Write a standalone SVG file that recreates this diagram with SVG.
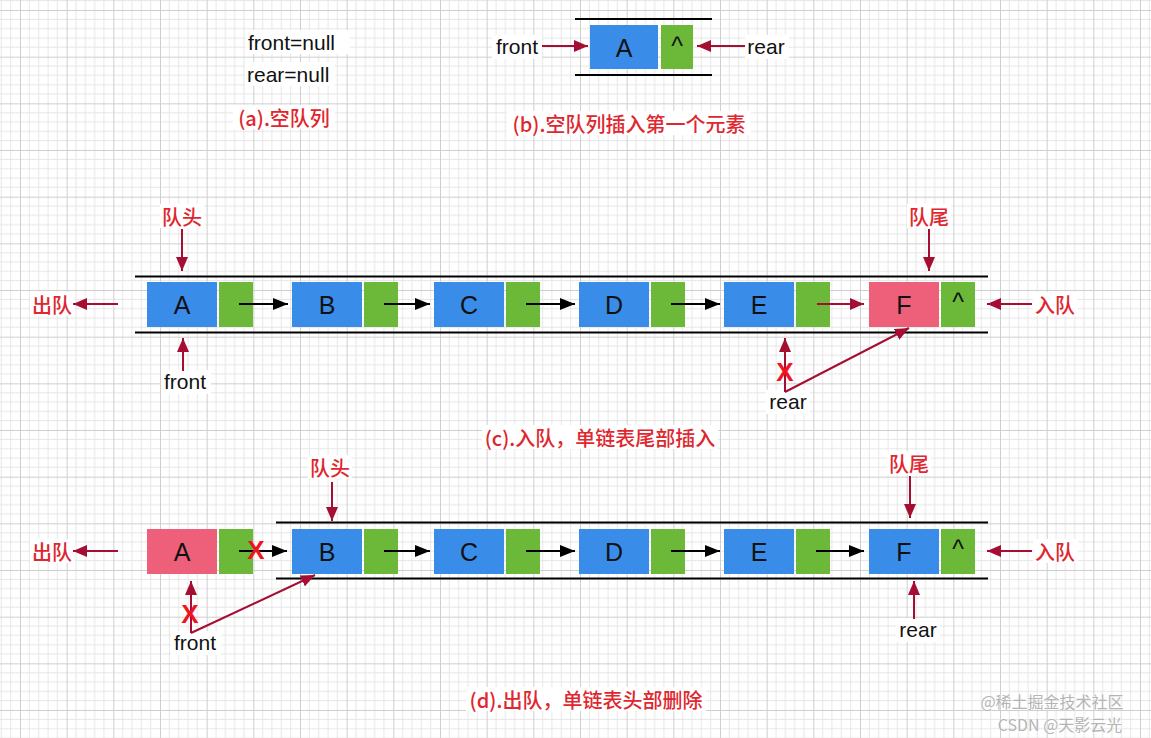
<svg xmlns="http://www.w3.org/2000/svg" width="1151" height="738" viewBox="0 0 1151 738">
<defs>
<pattern id="grid" patternUnits="userSpaceOnUse" x="20" y="10" width="46.667" height="46.667">
<path d="M9.333 0V46.667M18.667 0V46.667M28 0V46.667M37.333 0V46.667M0 9.333H46.667M0 18.667H46.667M0 28H46.667M0 37.333H46.667" stroke="#e6e6e6" stroke-width="1" fill="none"/>
<path d="M0.5 0V46.667M0 0.5H46.667" stroke="#cfcfcf" stroke-width="1" fill="none"/>
</pattern>
<marker id="ar" viewBox="0 0 14 12" refX="14" refY="6" markerWidth="14" markerHeight="12" markerUnits="userSpaceOnUse" orient="auto">
<path d="M0 0L14 6L0 12Z" fill="#a50e32"/>
</marker>
<marker id="ab" viewBox="0 0 15 12" refX="15" refY="6" markerWidth="15" markerHeight="12" markerUnits="userSpaceOnUse" orient="auto">
<path d="M0 0L15 6L0 12Z" fill="#000"/>
</marker>
</defs>
<style>
.bg{fill:#fff}
.blue{fill:#3a8ce9}
.green{fill:#6cb93a}
.pink{fill:#ee6079}
.rail{stroke:#000;stroke-width:2}
.ra{stroke:#a50e32;stroke-width:2;fill:none;marker-end:url(#ar)}
.ba{stroke:#000;stroke-width:2;fill:none;marker-end:url(#ab)}
.t{font-family:"Liberation Sans","Noto Sans CJK SC",sans-serif;fill:#111;dominant-baseline:central}
.n{font-size:25px;text-anchor:middle}
.lbl{font-size:21px}
.red{font-family:"Noto Sans CJK SC","Liberation Sans",sans-serif;fill:#e0262e;font-size:20px;font-weight:500;dominant-baseline:central;text-anchor:middle}
.x{font-family:"Liberation Sans",sans-serif;fill:#f0141e;font-size:26px;font-weight:bold;text-anchor:middle;dominant-baseline:central}
.wm{font-family:"Noto Sans CJK SC","Liberation Sans",sans-serif;fill:#b4b4b4;font-size:16px;text-anchor:middle;dominant-baseline:central;stroke:#fff;stroke-width:0.6;paint-order:stroke}
</style>
<rect width="1151" height="738" fill="#fff"/>
<rect width="1151" height="738" fill="url(#grid)"/>

<!-- (a) -->
<g id="a-front">
<rect class="bg" x="246" y="30" width="104" height="24"/>
<text class="t lbl" x="248" y="42">front=null</text>
</g>
<g id="a-rear">
<rect class="bg" x="245" y="62" width="90" height="24"/>
<text class="t lbl" x="247" y="74">rear=null</text>
</g>
<g id="a-label">
<rect class="bg" x="233" y="105" width="102" height="24"/>
<text class="red" x="284" y="117">(a).空队列</text>
</g>

<!-- (b) -->
<g id="b-rails">
<line class="rail" x1="575" y1="19" x2="712" y2="19"/>
<line class="rail" x1="575" y1="75" x2="712" y2="75"/>
</g>
<g id="b-nodeA">
<rect class="blue" x="590" y="25" width="68" height="44"/>
<rect class="green" x="661" y="25" width="32" height="44"/>
<text class="t n" x="624" y="48">A</text>
<text class="t n" x="677" y="46">^</text>
</g>
<g id="b-front">
<rect class="bg" x="492" y="35" width="50" height="24"/>
<text class="t lbl" x="517" y="46" text-anchor="middle">front</text>
</g>
<g id="b-rear">
<rect class="bg" x="745" y="35" width="44" height="24"/>
<text class="t lbl" x="766" y="46" text-anchor="middle">rear</text>
</g>
<g id="b-label">
<rect class="bg" x="507" y="111" width="244" height="24"/>
<text class="red" x="629" y="123">(b).空队列插入第一个元素</text>
</g>

<!-- (c) -->
<g id="c-rails">
<line class="rail" x1="135" y1="276.5" x2="988" y2="276.5"/>
<line class="rail" x1="135" y1="332.5" x2="988" y2="332.5"/>
</g>
<g id="c-A"><rect class="blue" x="147" y="282" width="70" height="45"/><rect class="green" x="219" y="282" width="34" height="45"/><text class="t n" x="182" y="305">A</text></g>
<g id="c-B"><rect class="blue" x="292" y="282" width="70" height="45"/><rect class="green" x="364" y="282" width="34" height="45"/><text class="t n" x="327" y="305">B</text></g>
<g id="c-C"><rect class="blue" x="434" y="282" width="70" height="45"/><rect class="green" x="506" y="282" width="34" height="45"/><text class="t n" x="469" y="305">C</text></g>
<g id="c-D"><rect class="blue" x="579" y="282" width="70" height="45"/><rect class="green" x="651" y="282" width="34" height="45"/><text class="t n" x="614" y="305">D</text></g>
<g id="c-E"><rect class="blue" x="724" y="282" width="70" height="45"/><rect class="green" x="796" y="282" width="34" height="45"/><text class="t n" x="759" y="305">E</text></g>
<g id="c-F"><rect class="pink" x="869" y="282" width="70" height="45"/><rect class="green" x="941" y="282" width="34" height="45"/><text class="t n" x="904" y="305">F</text><text class="t n" x="958" y="302">^</text></g>
<g id="c-head"><rect class="bg" x="160" y="204" width="44" height="24"/><text class="red" x="182" y="216">队头</text></g>
<g id="c-tail"><rect class="bg" x="907" y="204" width="44" height="24"/><text class="red" x="929" y="216">队尾</text></g>
<g id="c-out"><rect class="bg" x="30" y="292" width="45" height="24"/><text class="red" x="52" y="304">出队</text></g>
<g id="c-in"><rect class="bg" x="1033" y="292" width="45" height="24"/><text class="red" x="1055" y="304">入队</text></g>
<g id="c-front"><rect class="bg" x="161" y="370" width="50" height="24"/><text class="t lbl" x="185" y="381" text-anchor="middle">front</text></g>
<g id="c-rear"><rect class="bg" x="766" y="390" width="44" height="24"/><text class="t lbl" x="788" y="401" text-anchor="middle">rear</text></g>
<g id="c-label"><rect class="bg" x="482" y="425" width="236" height="24"/><text class="red" x="600" y="437">(c).入队，单链表尾部插入</text></g>

<!-- (d) -->
<g id="d-rails">
<line class="rail" x1="276" y1="522.5" x2="988" y2="522.5"/>
<line class="rail" x1="276" y1="578.5" x2="988" y2="578.5"/>
</g>
<g id="d-A"><rect class="pink" x="147" y="529" width="70" height="45"/><rect class="green" x="219" y="529" width="34" height="45"/><text class="t n" x="182" y="552">A</text></g>
<g id="d-B"><rect class="blue" x="292" y="529" width="70" height="45"/><rect class="green" x="364" y="529" width="34" height="45"/><text class="t n" x="327" y="552">B</text></g>
<g id="d-C"><rect class="blue" x="434" y="529" width="70" height="45"/><rect class="green" x="506" y="529" width="34" height="45"/><text class="t n" x="469" y="552">C</text></g>
<g id="d-D"><rect class="blue" x="579" y="529" width="70" height="45"/><rect class="green" x="651" y="529" width="34" height="45"/><text class="t n" x="614" y="552">D</text></g>
<g id="d-E"><rect class="blue" x="724" y="529" width="70" height="45"/><rect class="green" x="796" y="529" width="34" height="45"/><text class="t n" x="759" y="552">E</text></g>
<g id="d-F"><rect class="blue" x="869" y="529" width="70" height="45"/><rect class="green" x="941" y="529" width="34" height="45"/><text class="t n" x="904" y="552">F</text><text class="t n" x="958" y="549">^</text></g>
<g id="d-head"><rect class="bg" x="308" y="455" width="44" height="24"/><text class="red" x="330" y="467">队头</text></g>
<g id="d-tail"><rect class="bg" x="887" y="451" width="44" height="24"/><text class="red" x="909" y="463">队尾</text></g>
<g id="d-out"><rect class="bg" x="30" y="539" width="45" height="24"/><text class="red" x="52" y="551">出队</text></g>
<g id="d-in"><rect class="bg" x="1033" y="539" width="45" height="24"/><text class="red" x="1055" y="551">入队</text></g>
<g id="d-front"><rect class="bg" x="171" y="631" width="50" height="24"/><text class="t lbl" x="195" y="642" text-anchor="middle">front</text></g>
<g id="d-rear"><rect class="bg" x="896" y="618" width="44" height="24"/><text class="t lbl" x="918" y="629" text-anchor="middle">rear</text></g>
<g id="d-label"><rect class="bg" x="466" y="687" width="240" height="24"/><text class="red" x="586" y="699">(d).出队，单链表头部删除</text></g>

<g id="connectors">
<!-- (b) -->
<line class="ra" x1="542" y1="46" x2="588" y2="46"/>
<line class="ra" x1="745" y1="46" x2="697" y2="46"/>
<!-- (c) -->
<line class="ba" x1="239" y1="304" x2="288" y2="304"/>
<line class="ba" x1="384" y1="304" x2="430" y2="304"/>
<line class="ba" x1="526" y1="304" x2="575" y2="304"/>
<line class="ba" x1="671" y1="304" x2="720" y2="304"/>
<line class="ra" x1="817" y1="304" x2="864" y2="304"/>
<line class="ra" x1="182" y1="229" x2="182" y2="271"/>
<line class="ra" x1="929" y1="229" x2="929" y2="271"/>
<line class="ra" x1="118" y1="304" x2="73" y2="304"/>
<line class="ra" x1="1032" y1="304" x2="987" y2="304"/>
<line class="ra" x1="183" y1="371" x2="183" y2="338"/>
<line class="ra" x1="785" y1="392" x2="785" y2="338"/>
<line class="ra" x1="785" y1="392" x2="909" y2="328"/>
<text class="x" x="785" y="372">X</text>
<!-- (d) -->
<line class="ba" x1="239" y1="551" x2="287" y2="551"/>
<text class="x" x="256" y="550">X</text>
<line class="ba" x1="384" y1="551" x2="430" y2="551"/>
<line class="ba" x1="526" y1="551" x2="575" y2="551"/>
<line class="ba" x1="671" y1="551" x2="720" y2="551"/>
<line class="ba" x1="816" y1="551" x2="864" y2="551"/>
<line class="ra" x1="332" y1="482" x2="332" y2="521"/>
<line class="ra" x1="910" y1="476" x2="910" y2="518"/>
<line class="ra" x1="118" y1="551" x2="73" y2="551"/>
<line class="ra" x1="1032" y1="551" x2="987" y2="551"/>
<line class="ra" x1="191" y1="633" x2="191" y2="581"/>
<line class="ra" x1="191" y1="633" x2="315" y2="575"/>
<text class="x" x="190" y="614">X</text>
<line class="ra" x1="914" y1="619" x2="914" y2="581"/>
</g>

<g id="watermark">
<text class="wm" x="1052" y="701">@稀土掘金技术社区</text>
<text class="wm" x="1060" y="724">CSDN @天影云光</text>
</g>
</svg>
